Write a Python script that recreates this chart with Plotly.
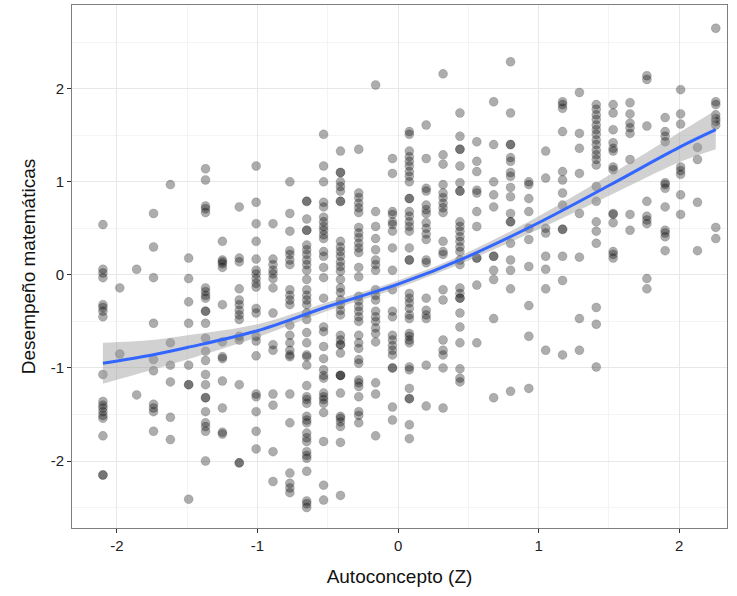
import plotly.graph_objects as go

# Discrete levels of "Autoconcepto (Z)"
x_levels = [-2.10, -1.98, -1.86, -1.74, -1.62, -1.49, -1.37, -1.25, -1.13, -1.01,
            -0.89, -0.77, -0.65, -0.53, -0.41, -0.28, -0.16, -0.04, 0.08, 0.20,
            0.32, 0.44, 0.56, 0.68, 0.80, 0.93, 1.05, 1.17, 1.29, 1.41,
            1.53, 1.65, 1.77, 1.90, 2.01, 2.13, 2.26]

# Desempeño matemáticas per level
c01 = [0.54, 0.06, 0.02, -0.03, -0.32, -0.35, -0.39, -0.45, -1.07, -1.36, -1.40, -1.43, -1.47, -1.51, -1.54, -1.73, -2.15, -2.15]
c02 = [-0.14, -0.85]
c03 = [0.06, -1.29]
c04 = [0.66, 0.30, -0.03, -0.52, -0.91, -1.03, -1.39, -1.43, -1.47, -1.68]
c05 = [0.97, -0.73, -0.97, -1.15, -1.53, -1.77]
c06 = [0.18, -0.04, -0.29, -0.52, -0.97, -1.18, -1.18, -2.41]
c07 = [1.14, 1.02, 0.74, 0.71, 0.67, -0.14, -0.18, -0.22, -0.25, -0.39, -0.39, -0.52, -0.68, -0.82, -0.92, -1.07, -1.18, -1.32, -1.32, -1.47, -1.59, -1.63, -1.68, -2.0]
c08 = [0.36, 0.16, 0.14, 0.12, 0.08, -0.32, -0.72, -0.88, -0.90, -1.14, -1.43, -1.69, -1.71]
c09 = [0.73, 0.18, 0.14, -0.15, -0.27, -0.32, -0.38, -0.43, -0.48, -0.66, -0.70, -1.18, -2.02, -2.02]
c10 = [1.17, 0.78, 0.55, 0.36, 0.17, 0.05, 0.01, -0.04, -0.09, -0.13, -0.36, -0.41, -0.66, -0.71, -0.87, -1.28, -1.31, -1.47, -1.68, -1.87]
c11 = [0.55, 0.17, 0.11, 0.05, 0.01, -0.04, -0.14, -0.41, -0.75, -0.81, -1.28, -1.40, -1.90, -2.22]
c12 = [1.0, 0.66, 0.47, 0.26, 0.22, 0.16, 0.11, -0.16, -0.22, -0.27, -0.32, -0.54, -0.65, -0.73, -0.81, -0.86, -0.88, -1.28, -1.59, -2.13, -2.24, -2.29, -2.34]
c13 = [0.79, 0.79, 0.60, 0.48, 0.48, 0.32, 0.27, 0.22, 0.16, 0.11, 0.05, -0.05, -0.16, -0.22, -0.27, -0.32, -0.41, -0.48, -0.62, -0.73, -0.86, -0.88, -0.97, -1.19, -1.31, -1.34, -1.38, -1.52, -1.56, -1.59, -1.70, -1.75, -1.79, -1.90, -1.94, -1.97, -2.11, -2.43, -2.46, -2.50]
c14 = [1.51, 1.17, 1.0, 0.78, 0.73, 0.62, 0.57, 0.52, 0.48, 0.43, 0.39, 0.25, 0.20, 0.08, -0.03, -0.25, -0.56, -0.61, -0.77, -0.90, -1.02, -1.08, -1.11, -1.27, -1.31, -1.34, -1.38, -1.48, -1.79, -2.26, -2.42]
c15 = [1.33, 1.10, 1.10, 1.0, 0.95, 0.90, 0.79, 0.79, 0.36, 0.30, 0.25, 0.20, 0.14, 0.09, 0.04, -0.05, -0.14, -0.19, -0.27, -0.32, -0.38, -0.43, -0.65, -0.70, -0.75, -0.75, -0.84, -1.08, -1.08, -1.08, -1.27, -1.52, -1.54, -1.58, -1.63, -1.80, -2.37]
c16 = [1.35, 0.88, 0.83, 0.77, 0.72, 0.67, 0.51, 0.45, 0.40, 0.34, 0.29, 0.24, 0.08, -0.02, -0.23, -0.28, -0.34, -0.39, -0.45, -0.50, -0.65, -0.73, -0.79, -0.91, -0.95, -1.13, -1.16, -1.20, -1.31, -1.47, -1.51, -1.59]
c17 = [2.04, 0.68, 0.52, 0.39, 0.27, 0.16, 0.11, 0.05, -0.16, -0.22, -0.27, -0.39, -0.45, -0.50, -0.57, -0.63, -0.72, -1.16, -1.28, -1.73]
c18 = [1.25, 1.09, 0.68, 0.65, 0.57, 0.54, 0.47, 0.29, 0.05, -0.16, -0.39, -0.45, -0.65, -0.70, -0.76, -0.81, -0.86, -1.0, -1.0, -1.42, -1.56]
c19 = [1.54, 1.51, 1.33, 1.27, 1.22, 1.17, 1.11, 1.06, 1.0, 0.82, 0.82, 0.68, 0.63, 0.57, 0.52, 0.47, 0.29, 0.16, 0.16, -0.20, -0.25, -0.30, -0.36, -0.43, -0.47, -0.63, -0.66, -0.70, -0.73, -0.99, -1.02, -1.22, -1.33, -1.33, -1.61, -1.76]
c20 = [1.61, 1.25, 0.93, 0.90, 0.75, 0.70, 0.66, 0.56, 0.50, 0.44, 0.38, 0.16, 0.13, -0.25, -0.38, -0.43, -0.47, -0.97, -1.41]
c21 = [2.16, 1.29, 1.19, 0.97, 0.88, 0.83, 0.77, 0.72, 0.67, 0.36, 0.25, 0.22, -0.16, -0.27, -0.70, -0.81, -0.86, -1.0, -1.43]
c22 = [1.74, 1.49, 1.35, 1.35, 1.17, 0.99, 0.90, 0.90, 0.57, 0.52, 0.47, 0.41, 0.36, 0.30, 0.25, 0.16, 0.11, -0.14, -0.20, -0.25, -0.25, -0.41, -0.56, -0.73, -1.01, -1.11, -1.15]
c23 = [1.43, 1.22, 1.11, 0.91, 0.88, 0.68, 0.52, 0.18, 0.18, -0.11, -0.73]
c24 = [1.86, 1.40, 1.0, 0.86, 0.73, 0.20, 0.20, 0.05, -0.05, -0.47, -1.32]
c25 = [2.29, 1.74, 1.40, 1.40, 1.26, 1.22, 1.10, 1.06, 0.94, 0.84, 0.66, 0.57, 0.57, 0.34, 0.16, 0.05, -0.15, -1.25]
c26 = [1.0, 0.97, 0.82, 0.68, 0.50, 0.38, 0.09, -0.33, -0.66, -1.22]
c27 = [1.33, 1.04, 0.50, 0.45, 0.20, 0.06, -0.15, -0.81]
c28 = [1.86, 1.83, 1.79, 1.54, 1.11, 1.02, 0.88, 0.75, 0.49, 0.49, 0.20, -0.06, -0.86]
c29 = [1.96, 1.52, 1.36, 1.09, 0.66, 0.19, -0.47, -0.81]
c30 = [1.83, 1.78, 1.72, 1.67, 1.61, 1.56, 1.51, 1.45, 1.40, 1.34, 1.29, 1.24, 1.18, 0.95, 0.79, 0.57, 0.47, 0.34, -0.35, -0.53, -0.99]
c31 = [1.83, 1.74, 1.56, 1.42, 1.36, 1.33, 1.16, 1.13, 0.66, 0.65, 0.56, 0.25, 0.22, 0.18]
c32 = [1.85, 1.73, 1.63, 1.58, 1.52, 1.24, 0.65, 0.48]
c33 = [2.14, 2.10, 1.60, 0.79, 0.63, 0.59, 0.55, -0.04, -0.15]
c34 = [1.69, 1.54, 1.49, 1.43, 0.99, 0.97, 0.93, 0.73, 0.48, 0.45, 0.41, 0.26]
c35 = [1.99, 1.73, 1.62, 1.16, 1.12, 1.08, 0.86, 0.65]
c36 = [1.37, 1.24, 0.78, 0.26]
c37 = [2.65, 1.86, 1.83, 1.72, 1.68, 1.65, 1.61, 0.51, 0.39]

columns = [c01, c02, c03, c04, c05, c06, c07, c08, c09, c10, c11, c12, c13, c14, c15,
           c16, c17, c18, c19, c20, c21, c22, c23, c24, c25, c26, c27, c28, c29, c30,
           c31, c32, c33, c34, c35, c36, c37]

# Smoothed fit with confidence band
fit_x = [-2.10, -1.75, -1.5, -1.0, -0.5, 0.0, 0.5, 1.0, 1.5, 2.0, 2.26]
fit_y = [-0.95, -0.86, -0.78, -0.60, -0.34, -0.10, 0.20, 0.56, 0.96, 1.37, 1.56]
fit_se = [0.22, 0.16, 0.13, 0.07, 0.045, 0.04, 0.045, 0.07, 0.11, 0.16, 0.21]

tick_vals = [-2, -1, 0, 1, 2]
tick_text = ["-2", "-1", "0", "1", "2"]

xs, ys = [], []
for xv, col in zip(x_levels, columns):
    for yv in col:
        xs.append(xv)
        ys.append(yv)

fig = go.Figure()
fig.add_trace(go.Scatter(
    x=xs, y=ys, mode="markers",
    marker=dict(size=9, color="rgba(0,0,0,0.32)",
                line=dict(width=0.6, color="rgba(0,0,0,0.22)")),
    hoverinfo="skip", showlegend=False))

lo = [y - s for y, s in zip(fit_y, fit_se)]
hi = [y + s for y, s in zip(fit_y, fit_se)]
fig.add_trace(go.Scatter(x=fit_x, y=hi, mode="lines", line=dict(width=0, shape="spline"),
                         showlegend=False, hoverinfo="skip"))
fig.add_trace(go.Scatter(x=fit_x, y=lo, mode="lines", line=dict(width=0, shape="spline"),
                         fill="tonexty", fillcolor="rgba(153,153,153,0.45)",
                         showlegend=False, hoverinfo="skip"))
fig.add_trace(go.Scatter(x=fit_x, y=fit_y, mode="lines",
                         line=dict(color="#3366FF", width=3, shape="spline"),
                         showlegend=False, hoverinfo="skip"))

axis_common = dict(
    showgrid=True, gridcolor="#e8e8e8", gridwidth=1,
    zeroline=False, showline=True, linecolor="#7f7f7f", linewidth=1, mirror=True,
    ticks="outside", ticklen=4, tickcolor="#333333", tickwidth=1,
    tickfont=dict(family="Liberation Sans, Arial, sans-serif", size=15, color="#222222"),
    minor=dict(dtick=0.5, showgrid=True, gridcolor="#f4f4f4", gridwidth=1, ticklen=0),
)

fig.update_layout(
    width=737, height=596,
    margin=dict(l=72, r=10, t=5, b=68),
    paper_bgcolor="white", plot_bgcolor="white",
    xaxis=dict(range=[-2.32, 2.34], tickvals=tick_vals, ticktext=tick_text,
               title=dict(text="Autoconcepto (Z)", standoff=16,
                          font=dict(family="Liberation Sans, Arial, sans-serif", size=19, color="#111111")),
               **axis_common),
    yaxis=dict(range=[-2.72, 2.90], tickvals=tick_vals, ticktext=tick_text,
               title=dict(text="Desempeño matemáticas", standoff=10,
                          font=dict(family="Liberation Sans, Arial, sans-serif", size=19, color="#111111")),
               **axis_common),
)

fig.write_html("out.html")
